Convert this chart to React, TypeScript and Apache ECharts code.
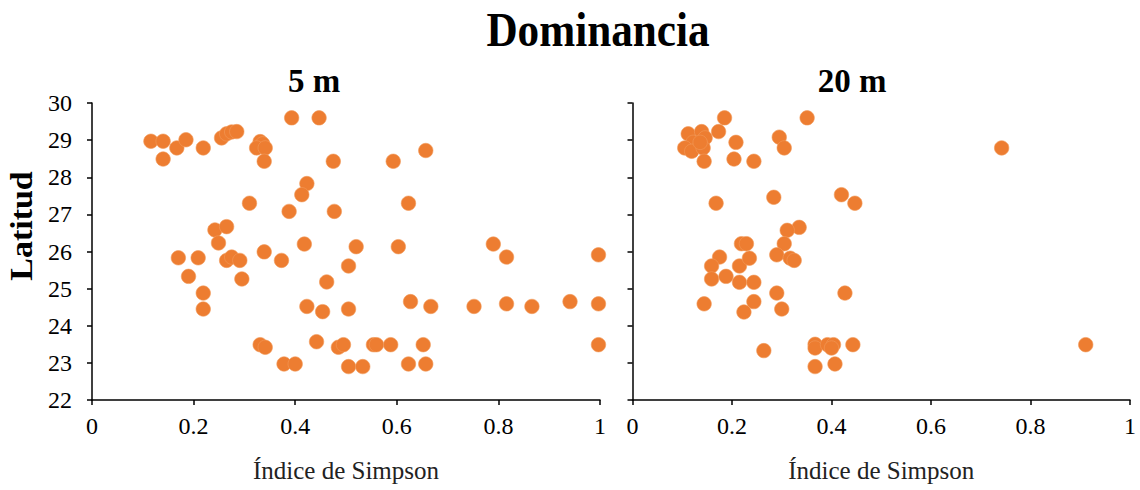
import React, { useEffect, useRef } from "react";
import * as echarts from "echarts";

const xTicks = [0, 0.2, 0.4, 0.6, 0.8, 1];
const yTicks = [22, 23, 24, 25, 26, 27, 28, 29, 30];

const simpson5m: number[] = [
  0.116, 0.14, 0.14, 0.167, 0.185, 0.219, 0.255, 0.265, 0.275, 0.285, 0.331, 0.336, 0.324, 0.341, 0.339,
  0.393, 0.447, 0.475, 0.593, 0.657, 0.423, 0.413, 0.31, 0.388, 0.477, 0.623, 0.242, 0.265, 0.249, 0.418,
  0.52, 0.603, 0.79, 0.339, 0.17, 0.209, 0.265, 0.275, 0.291, 0.373, 0.505, 0.816, 0.997, 0.19, 0.295,
  0.462, 0.219, 0.219, 0.423, 0.454, 0.505, 0.627, 0.667, 0.752, 0.816, 0.866, 0.941, 0.997, 0.331, 0.341,
  0.442, 0.485, 0.495, 0.554, 0.56, 0.588, 0.652, 0.997, 0.378, 0.4, 0.505, 0.533, 0.623, 0.657,
];
const latitud5m: number[] = [
  28.97, 28.97, 28.49, 28.79, 29.01, 28.79, 29.06, 29.17, 29.22, 29.23, 28.96, 28.9, 28.79, 28.79, 28.43,
  29.6, 29.6, 28.43, 28.43, 28.72, 27.83, 27.53, 27.3, 27.08, 27.08, 27.3, 26.58, 26.67, 26.23, 26.2,
  26.13, 26.13, 26.2, 25.99, 25.83, 25.83, 25.76, 25.85, 25.76, 25.76, 25.61, 25.85, 25.91, 25.33, 25.26,
  25.18, 24.88, 24.45, 24.52, 24.38, 24.45, 24.65, 24.52, 24.52, 24.59, 24.52, 24.65, 24.59, 23.49, 23.42,
  23.57, 23.42, 23.49, 23.49, 23.49, 23.49, 23.49, 23.49, 22.97, 22.97, 22.9, 22.9, 22.97, 22.97,
];

const simpson20m: number[] = [
  0.185, 0.351, 0.112, 0.139, 0.146, 0.122, 0.105, 0.119, 0.142, 0.136, 0.173, 0.208, 0.144, 0.204, 0.244,
  0.295, 0.305, 0.742, 0.168, 0.284, 0.42, 0.447, 0.335, 0.311, 0.219, 0.229, 0.305, 0.175, 0.159, 0.215,
  0.235, 0.29, 0.317, 0.325, 0.159, 0.188, 0.215, 0.244, 0.29, 0.427, 0.144, 0.244, 0.224, 0.3, 0.264,
  0.367, 0.367, 0.392, 0.404, 0.4, 0.443, 0.911, 0.367, 0.407,
];
const latitud20m: number[] = [
  29.6, 29.6, 29.17, 29.23, 29.06, 28.94, 28.79, 28.7, 28.79, 28.94, 29.23, 28.94, 28.43, 28.49, 28.43,
  29.08, 28.79, 28.79, 27.3, 27.46, 27.53, 27.3, 26.65, 26.57, 26.21, 26.21, 26.21, 25.85, 25.61, 25.61,
  25.82, 25.91, 25.82, 25.76, 25.26, 25.33, 25.17, 25.17, 24.88, 24.88, 24.59, 24.65, 24.37, 24.45, 23.33,
  23.5, 23.4, 23.49, 23.49, 23.4, 23.49, 23.49, 22.9, 22.97,
];

const FAMILY = "Liberation Serif";
const FONT = "'Liberation Serif', serif";
const ORANGE = "#ED7D31";

function pairs(xs: number[], ys: number[]) {
  return xs.map((x, i) => [x, ys[i]]);
}

export default function App() {
  const ref = useRef<HTMLDivElement>(null);

  useEffect(() => {
    if (!ref.current) return;
    const chart = echarts.init(ref.current, null, { renderer: "svg" });

    const axisLine = { show: true, lineStyle: { color: "#000", width: 1.5 } };
    const axisTick = { show: true, inside: false, length: 5, lineStyle: { color: "#000", width: 1.5 } };

    const mkX = (idx: number) => ({
      type: "value",
      gridIndex: idx,
      min: xTicks[0],
      max: xTicks[xTicks.length - 1],
      interval: 0.2,
      axisLine,
      axisTick,
      splitLine: { show: false },
      axisLabel: {
        margin: 14,
        color: "#000",
        fontFamily: FAMILY,
        fontSize: 24,
        formatter: (v: number) => String(Math.round(v * 10) / 10),
      },
      name: "Índice de Simpson",
      nameLocation: "middle",
      nameGap: 58,
      nameTextStyle: { color: "#222", fontFamily: FAMILY, fontSize: 25 },
    });

    const mkY = (idx: number, showLabels: boolean) => ({
      type: "value",
      gridIndex: idx,
      min: yTicks[0],
      max: yTicks[yTicks.length - 1],
      interval: 1,
      axisLine,
      axisTick,
      splitLine: { show: false },
      axisLabel: {
        show: showLabels,
        margin: 20,
        color: "#000",
        fontFamily: FAMILY,
        fontSize: 24,
      },
    });

    const itemStyle = { color: ORANGE, opacity: 1, borderColor: "#F29A5A", borderWidth: 0.6 };

    chart.setOption({
      animation: false,
      backgroundColor: "#fff",
      grid: [
        { left: 92, top: 103, width: 508, height: 297 },
        { left: 632.5, top: 103, width: 497.5, height: 297 },
      ],
      xAxis: [mkX(0), mkX(1)],
      yAxis: [mkY(0, true), mkY(1, false)],
      series: [
        {
          type: "scatter",
          xAxisIndex: 0,
          yAxisIndex: 0,
          symbolSize: 14.5,
          itemStyle,
          data: pairs(simpson5m, latitud5m),
        },
        {
          type: "scatter",
          xAxisIndex: 1,
          yAxisIndex: 1,
          symbolSize: 14.5,
          itemStyle,
          data: pairs(simpson20m, latitud20m),
        },
      ],
      graphic: [
        {
          type: "text",
          x: 598,
          y: 30,
          scaleX: 0.9,
          style: {
            text: "Dominancia",
            font: `bold 48px ${FONT}`,
            fill: "#000",
            textAlign: "center",
            textVerticalAlign: "middle",
          },
        },
        {
          type: "text",
          x: 314,
          y: 81,
          style: {
            text: "5 m",
            font: `bold 33px ${FONT}`,
            fill: "#000",
            textAlign: "center",
            textVerticalAlign: "middle",
          },
        },
        {
          type: "text",
          x: 852,
          y: 81,
          style: {
            text: "20 m",
            font: `bold 33px ${FONT}`,
            fill: "#000",
            textAlign: "center",
            textVerticalAlign: "middle",
          },
        },
        {
          type: "text",
          x: 22,
          y: 226,
          rotation: Math.PI / 2,
          scaleY: 0.9,
          style: {
            text: "Latitud",
            font: `bold 34px ${FONT}`,
            fill: "#000",
            textAlign: "center",
            textVerticalAlign: "middle",
          },
        },
      ],
    });

    return () => chart.dispose();
  }, []);

  return (
    <div
      ref={ref}
      style={{ position: "fixed", left: 0, top: 0, width: 1140, height: 490, background: "#fff" }}
    />
  );
}
